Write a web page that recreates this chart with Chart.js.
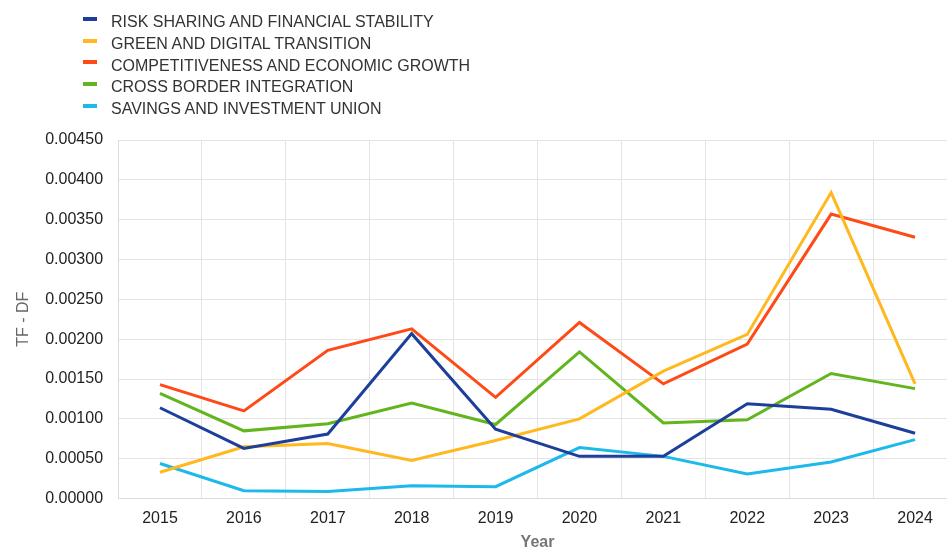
<!DOCTYPE html>
<html>
<head>
<meta charset="utf-8">
<script src="https://cdn.jsdelivr.net/npm/chart.js@4/dist/chart.umd.min.js"></script>
<style>
  html, body { margin: 0; padding: 0; background: #fff; overflow: hidden; }
  #wrap { position: relative; width: 960px; height: 552px; }
  #legend { position: absolute; left: 83px; top: 11px; font-family: "Liberation Sans", Arial, sans-serif; font-size: 16px; color: #333; }
  #legend div { height: 21.75px; line-height: 21.75px; white-space: nowrap; }
  #legend span { display: inline-block; width: 14px; height: 4px; margin-right: 14px; vertical-align: middle; position: relative; top: -4px; }
</style>
</head>
<body>
<div id="wrap">
  <canvas id="chart" width="960" height="552"></canvas>
  <div id="legend"></div>
</div>
<script>
// data
const years = ['2015', '2016', '2017', '2018', '2019', '2020', '2021', '2022', '2023', '2024'];
const seriesNames = [
    'RISK SHARING AND FINANCIAL STABILITY',
    'GREEN AND DIGITAL TRANSITION',
    'COMPETITIVENESS AND ECONOMIC GROWTH',
    'CROSS BORDER INTEGRATION',
    'SAVINGS AND INVESTMENT UNION'
];
const riskSharing = [0.00114, 0.00063, 0.00081, 0.00207, 0.00087, 0.00053, 0.00053, 0.00119, 0.00112, 0.00082];
const greenDigital = [0.00033, 0.00065, 0.00069, 0.00048, 0.00073, 0.00100, 0.00160, 0.00206, 0.00384, 0.00144];
const competitiveness = [0.00143, 0.00110, 0.00186, 0.00213, 0.00127, 0.00221, 0.00144, 0.00194, 0.00357, 0.00328];
const crossBorder = [0.00132, 0.00085, 0.00094, 0.00120, 0.00093, 0.00184, 0.00095, 0.00099, 0.00157, 0.00138];
const savingsUnion = [0.00044, 0.00010, 0.00009, 0.00016, 0.00015, 0.00064, 0.00053, 0.00031, 0.00046, 0.00074];
const yTicks = [0, 0.0005, 0.001, 0.0015, 0.002, 0.0025, 0.003, 0.0035, 0.004, 0.0045];

const colors = ['#1d3f9b', '#ffb81e', '#ff4a17', '#62b51d', '#1cb9ea'];
const allValues = [riskSharing, greenDigital, competitiveness, crossBorder, savingsUnion];

// HTML legend, one item per row
const legendEl = document.getElementById('legend');
seriesNames.forEach((name, i) => {
    const row = document.createElement('div');
    row.innerHTML = '<span style="background:' + colors[i] + '"></span>' + name;
    legendEl.appendChild(row);
});

const ctx = document.getElementById('chart').getContext('2d');
new Chart(ctx, {
    type: 'line',
    data: {
        labels: years,
        datasets: seriesNames.map((name, i) => ({
            label: name,
            data: allValues[i],
            borderColor: colors[i],
            backgroundColor: colors[i],
            borderWidth: 3,
            pointRadius: 0,
            tension: 0,
            fill: false
        }))
    },
    options: {
        responsive: false,
        animation: false,
        layout: { padding: { top: 140, left: 10, right: 3, bottom: 0 } },
        plugins: {
            legend: { display: false },
            tooltip: { enabled: false }
        },
        scales: {
            x: {
                offset: true,
                grid: { offset: true, color: '#e4e4e4', drawTicks: false },
                border: { color: '#dcdcdc' },
                ticks: { color: '#222', font: { family: 'Liberation Sans', size: 16 }, padding: 10 },
                title: { display: true, text: 'Year', color: '#777', font: { family: 'Liberation Sans', size: 16, weight: 'bold' }, padding: { top: -5, bottom: 0 } }
            },
            y: {
                min: 0,
                max: 0.0045,
                afterBuildTicks: (axis) => { axis.ticks = yTicks.map(v => ({ value: v })); },
                grid: { color: '#e4e4e4', drawTicks: false },
                border: { color: '#dcdcdc' },
                ticks: {
                    color: '#222',
                    font: { family: 'Liberation Sans', size: 16 },
                    padding: 15,
                    callback: (v) => Number(v).toFixed(5)
                },
                title: { display: true, text: 'TF - DF', color: '#666', font: { family: 'Liberation Sans', size: 16 }, padding: { top: 4, bottom: -3 } }
            }
        }
    }
});
</script>
</body>
</html>
